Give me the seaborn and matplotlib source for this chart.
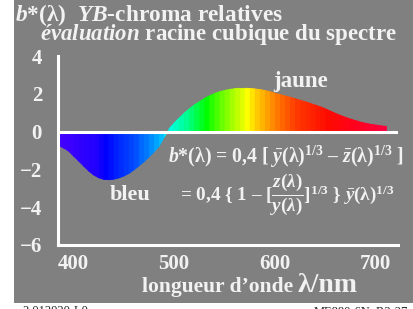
import matplotlib
matplotlib.use("Agg")
import matplotlib.pyplot as plt
import seaborn as sns
import numpy as np
from matplotlib.colors import LinearSegmentedColormap
from matplotlib.patches import Rectangle

# ---- data ----
wavelengths = [385, 390, 395, 400, 405, 410, 415, 420, 425, 430, 435, 440, 445, 450,
               455, 460, 465, 470, 475, 480, 485, 490, 495, 500, 505, 510, 515, 520,
               525, 530, 535, 540, 545, 550, 555, 560, 565, 570, 575, 580, 585, 590,
               595, 600, 605, 610, 615, 620, 625, 630, 635, 640, 645, 650, 655, 660,
               665, 670, 675, 680, 685, 690, 695, 700, 705, 710]
b_star = [-0.71, -0.84, -1.00, -1.27, -1.53, -1.80, -2.06, -2.27, -2.42, -2.50, -2.52,
          -2.49, -2.42, -2.32, -2.18, -1.99, -1.78, -1.55, -1.30, -1.03, -0.73, -0.25,
          0.20, 0.50, 0.76, 1.02, 1.25, 1.45, 1.62, 1.79, 1.93, 2.05, 2.14, 2.21, 2.26,
          2.30, 2.32, 2.32, 2.31, 2.28, 2.25, 2.20, 2.13, 2.05, 1.98, 1.91, 1.84, 1.76,
          1.68, 1.60, 1.51, 1.42, 1.33, 1.22, 1.10, 0.98, 0.87, 0.77, 0.68, 0.60, 0.52,
          0.46, 0.41, 0.37, 0.33, 0.30]

y_ticks = [-6, -4, -2, 0, 2, 4]
y_tick_labels = ["\u22126", "\u22124", "\u22122", "0", "2", "4"]
x_ticks = [400, 500, 600, 700]
x_tick_labels = ["400", "500", "600", "700"]

# spectral colour stops (wavelength, colour)
color_stop_wl = [385, 420, 430, 440, 460, 475, 485, 490, 495, 510, 530, 550, 570, 580,
                 600, 620, 650, 680, 710]
color_stop_hex = ["#4400ff", "#2000ff", "#0000ff", "#0020ff", "#0050ff", "#0090ff",
                  "#00c0ff", "#00f0ff", "#00ffd8", "#00ff90", "#00ff00", "#88ff00",
                  "#ffff00", "#ffc800", "#ff7800", "#ff3800", "#ff0a00", "#ff0020",
                  "#ff0040"]

# ---- figure ----
W, H = 414, 309
sns.set_theme(style="white")
plt.rcParams['font.family'] = ['Liberation Serif', 'DejaVu Serif']
plt.rcParams['font.weight'] = 'bold'
plt.rcParams['mathtext.fontset'] = 'custom'
plt.rcParams['mathtext.rm'] = 'Liberation Serif:bold'
plt.rcParams['mathtext.it'] = 'Liberation Serif:italic:bold'
plt.rcParams['mathtext.bf'] = 'Liberation Serif:bold'

fig = plt.figure(figsize=(W / 100, H / 100), dpi=100)
fig.patch.set_facecolor('white')
gray = '#808080'
fig.patches.append(Rectangle((14 / W, 1 - 303 / H), 1 - 14 / W, 303 / H,
                             transform=fig.transFigure, facecolor=gray,
                             edgecolor='none', zorder=-10))

def fx(px):
    return px / W

def fy(py):
    return 1 - py / H

ax = fig.add_axes([fx(58), fy(245), (398 - 58) / W, (245 - 56) / H])
ax.set_facecolor('none')

xmin, xmax = 385, 722
ax.set_xlim(xmin, xmax)
ax.set_ylim(-6, 4)

cmap = LinearSegmentedColormap.from_list(
    'spec', [((w - color_stop_wl[0]) / (color_stop_wl[-1] - color_stop_wl[0]), c)
             for w, c in zip(color_stop_wl, color_stop_hex)])

wl = np.array(wavelengths, dtype=float)
bs = np.array(b_star, dtype=float)
for i in range(len(wl) - 1):
    c = cmap((wl[i] - color_stop_wl[0]) / (color_stop_wl[-1] - color_stop_wl[0]))
    ax.fill_between(wl[i:i + 2], 0, bs[i:i + 2], color=c, lw=0.6, edgecolor=c,
                    zorder=2)

txt = '#f2f2f2'
ax.axhline(0, color='white', lw=2.2, zorder=3)

for s in ['top', 'right']:
    ax.spines[s].set_visible(False)
for s in ['left', 'bottom']:
    ax.spines[s].set_color('white')
    ax.spines[s].set_linewidth(2.2)

ax.set_yticks(y_ticks)
ax.set_yticklabels(y_tick_labels)
ax.set_xticks(x_ticks)
ax.set_xticklabels(x_tick_labels)
ax.tick_params(axis='both', direction='inout', length=7, width=2.2, color='white',
               labelcolor=txt, labelsize=15)
ax.tick_params(axis='y', pad=8)
ax.tick_params(axis='x', pad=3)
for lab in ax.get_xticklabels() + ax.get_yticklabels():
    lab.set_fontweight('bold')

# ---- texts ----
fig.text(fx(15), fy(21), r"$b$*(λ)  $YB$-chroma relatives", color=txt, fontsize=16.8,
         fontweight='bold', va='baseline', ha='left')
fig.text(fx(40), fy(40), r"$évaluation$ racine cubique du spectre", color=txt,
         fontsize=16.5, fontweight='bold', va='baseline', ha='left')

fig.text(fx(293), fy(292), "longueur d\u2019onde", color=txt, fontsize=15.5,
         fontweight='bold', va='baseline', ha='right')
fig.text(fx(298), fy(292), "λ/nm", color=txt, fontsize=20,
         fontweight='bold', va='baseline', ha='left')

fig.text(fx(273), fy(87), "jaune", color=txt, fontsize=16.5, fontweight='bold',
         va='baseline', ha='left')
fig.text(fx(110), fy(200), "bleu", color=txt, fontsize=16, fontweight='bold',
         va='baseline', ha='left')

dash = "\u2013"
fig.text(fx(168), fy(163),
         r"$b$*(λ) = 0,4 [ $\bar{y}$(λ)$^{1/3}$ " + dash + r" $\bar{z}$(λ)$^{1/3}$ ]",
         color=txt, fontsize=14.2, fontweight='bold', va='baseline', ha='left')
fig.text(fx(180), fy(201),
         r"= 0,4 { 1 " + dash + r" [$\dfrac{z(λ)}{y(λ)}$]$^{1/3}$ } $\bar{y}$(λ)$^{1/3}$",
         color=txt, fontsize=13.8, fontweight='bold', va='baseline', ha='left')

fig.text(fx(22), fy(305), "2-012020-L0", color='#222222', fontsize=9,
         fontweight='normal', va='top', ha='left')
fig.text(fx(408), fy(305), "ME880-6N_R2-27", color='#222222', fontsize=9,
         fontweight='normal', va='top', ha='right')

fig.savefig('out.png', dpi=100, facecolor=fig.get_facecolor())
